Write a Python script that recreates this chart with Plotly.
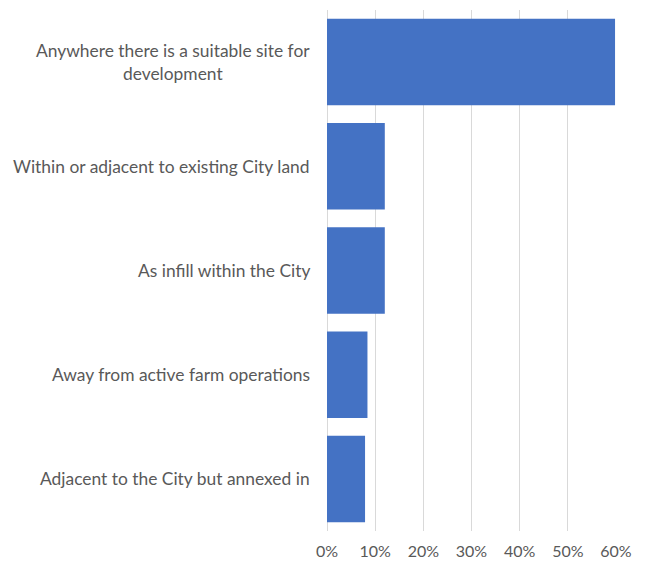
import plotly.graph_objects as go

# Survey responses, share of respondents
locations = [
    'Anywhere there is a suitable site for<br>development',
    'Within or adjacent to existing City land',
    'As infill within the City',
    'Away from active farm operations',
    'Adjacent to the City but annexed in',
]
shares = [0.598, 0.12, 0.12, 0.084, 0.079]

x_ticks = [0, 0.1, 0.2, 0.3, 0.4, 0.5, 0.6]
x_tick_labels = ['0%', '10%', '20%', '30%', '40%', '50%', '60%']

BAR_COLOR = '#4472C4'
GRID_COLOR = '#D9D9D9'
TEXT_COLOR = '#595959'
FONT = 'Lato'

fig = go.Figure()
fig.add_trace(go.Bar(
    x=shares, y=locations,
    orientation='h',
    marker=dict(color=BAR_COLOR, line=dict(width=0)),
    showlegend=False,
))

# category labels as annotations so the wrapped one stays centred
for loc in locations:
    fig.add_annotation(
        x=0, y=loc, xref='x', yref='y',
        text=loc, showarrow=False,
        xanchor='right', xshift=-15, align='center',
        font=dict(family=FONT, size=17.4, color=TEXT_COLOR),
    )

# page body adds an 8px margin, so the figure is 8px smaller each way
fig.update_layout(
    width=643, height=555,
    margin=dict(l=319, r=35, t=2, b=32),
    paper_bgcolor='white',
    plot_bgcolor='white',
    bargap=0.17,
    font=dict(family=FONT, size=16, color=TEXT_COLOR),
    xaxis=dict(
        range=[0, 0.6],
        tickmode='array', tickvals=x_ticks, ticktext=x_tick_labels,
        showgrid=True, gridcolor=GRID_COLOR, gridwidth=1,
        zeroline=True, zerolinecolor=GRID_COLOR, zerolinewidth=1,
        showline=False, ticks='',
        ticklabelstandoff=9,
        tickfont=dict(family=FONT, size=16, color=TEXT_COLOR),
    ),
    yaxis=dict(
        autorange='reversed',
        showticklabels=False, showgrid=False, zeroline=False,
        showline=False, ticks='',
    ),
)

fig.write_html('out.html')
